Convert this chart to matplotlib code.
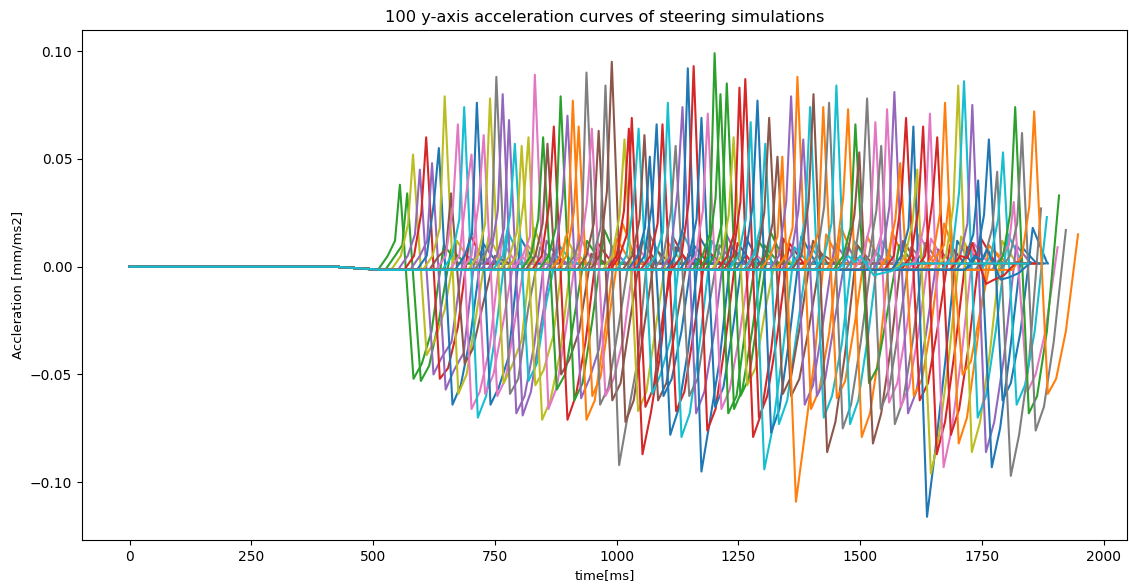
import matplotlib
matplotlib.use("Agg")
import matplotlib.pyplot as plt

# ---- data (one entry per simulation curve) ----
peak_time = [555, 570, 582, 596, 609, 621, 635, 647, 660, 674,
             687, 702, 713, 727, 740, 753, 766, 779, 791, 805,
             819, 832, 849, 858, 871, 885, 899, 910, 922, 938,
             949, 963, 977, 990, 1016, 1025, 1031, 1045, 1057, 1068,
             1082, 1094, 1105, 1121, 1135, 1146, 1158, 1174, 1187, 1201,
             1213, 1226, 1240, 1252, 1264, 1275, 1289, 1305, 1313, 1330,
             1340, 1358, 1371, 1383, 1397, 1404, 1424, 1436, 1451, 1475,
             1490, 1498, 1514, 1531, 1543, 1555, 1570, 1582, 1594, 1609,
             1617, 1629, 1643, 1658, 1674, 1682, 1701, 1713, 1730, 1742,
             1764, 1781, 1793, 1815, 1818, 1832, 1857, 1730, 1760, 1500]

peak_value = [0.038, 0.034, 0.052, 0.045, 0.060, 0.048, 0.055, 0.079, 0.034, 0.066,
              0.074, 0.052, 0.076, 0.061, 0.078, 0.088, 0.080, 0.068, 0.057, 0.056,
              0.060, 0.089, 0.060, 0.057, 0.065, 0.079, 0.070, 0.077, 0.065, 0.090,
              0.064, 0.063, 0.084, 0.095, 0.059, 0.064, 0.069, 0.064, 0.061, 0.051,
              0.066, 0.066, 0.076, 0.056, 0.074, 0.092, 0.093, 0.069, 0.071, 0.099,
              0.080, 0.085, 0.060, 0.083, 0.087, 0.067, 0.077, 0.057, 0.069, 0.051,
              0.051, 0.079, 0.088, 0.059, 0.074, 0.080, 0.074, 0.076, 0.084, 0.073,
              0.066, 0.053, 0.078, 0.067, 0.056, 0.073, 0.081, 0.048, 0.069, 0.065,
              0.045, 0.065, 0.071, 0.060, 0.076, 0.031, 0.084, 0.086, 0.075, 0.040,
              0.059, 0.044, 0.053, 0.030, 0.074, 0.062, 0.072, 0.011, 0.008, 0.005]

rise_value = [0.012, 0.010, 0.020, 0.015, 0.025, 0.012, 0.030, 0.018, 0.008, 0.028,
              0.022, 0.035, 0.015, 0.030, 0.020, 0.012, 0.026, 0.018, 0.024, 0.016,
              0.030, 0.014, 0.022, 0.020, 0.028, 0.018, 0.032, 0.016, 0.025, 0.014,
              0.030, 0.020, 0.018, 0.035, 0.024, 0.026, 0.015, 0.030, 0.022, 0.018,
              0.028, 0.020, 0.016, 0.025, 0.035, 0.018, 0.030, 0.022, 0.026, 0.015,
              0.032, 0.020, 0.024, 0.016, 0.030, 0.022, 0.028, 0.018, 0.025, 0.020,
              0.014, 0.030, 0.018, 0.026, 0.022, 0.030, 0.016, 0.028, 0.020, 0.032,
              0.018, 0.024, 0.030, 0.020, 0.026, 0.016, 0.028, 0.022, 0.030, 0.018,
              0.020, 0.026, 0.022, 0.030, 0.025, 0.010, 0.028, 0.035, 0.020, 0.015,
              0.024, 0.018, 0.022, 0.010, 0.025, 0.020, 0.028, 0.004, 0.003, 0.002]

dip_value = [-0.052, -0.053, -0.041, -0.050, -0.052, -0.057, -0.064, -0.059, -0.045, -0.066,
             -0.070, -0.059, -0.064, -0.060, -0.054, -0.059, -0.068, -0.069, -0.053, -0.055,
             -0.071, -0.066, -0.057, -0.050, -0.071, -0.062, -0.061, -0.071, -0.060, -0.064,
             -0.060, -0.062, -0.092, -0.072, -0.067, -0.087, -0.065, -0.059, -0.062, -0.060,
             -0.078, -0.067, -0.079, -0.060, -0.068, -0.095, -0.076, -0.065, -0.066, -0.068,
             -0.066, -0.060, -0.055, -0.079, -0.070, -0.094, -0.077, -0.073, -0.059, -0.060,
             -0.109, -0.064, -0.066, -0.060, -0.070, -0.086, -0.061, -0.075, -0.073, -0.079,
             -0.054, -0.082, -0.066, -0.063, -0.073, -0.065, -0.068, -0.060, -0.062, -0.116,
             -0.096, -0.087, -0.093, -0.078, -0.082, -0.050, -0.086, -0.070, -0.086, -0.093,
             -0.062, -0.097, -0.064, -0.058, -0.068, -0.076, -0.059, -0.008, -0.006, -0.004]

dip_hold_value = [-0.045, -0.046, -0.034, -0.042, -0.047, -0.048, -0.055, -0.050, -0.038, -0.058,
                  -0.060, -0.050, -0.056, -0.052, -0.046, -0.052, -0.060, -0.058, -0.045, -0.048,
                  -0.062, -0.056, -0.050, -0.043, -0.060, -0.054, -0.052, -0.062, -0.051, -0.056,
                  -0.052, -0.054, -0.070, -0.062, -0.058, -0.068, -0.056, -0.050, -0.054, -0.052,
                  -0.066, -0.058, -0.068, -0.052, -0.058, -0.072, -0.066, -0.056, -0.057, -0.060,
                  -0.057, -0.052, -0.047, -0.068, -0.060, -0.075, -0.066, -0.062, -0.051, -0.052,
                  -0.080, -0.055, -0.057, -0.052, -0.060, -0.072, -0.053, -0.064, -0.062, -0.068,
                  -0.047, -0.068, -0.057, -0.054, -0.062, -0.056, -0.058, -0.052, -0.054, -0.085,
                  -0.078, -0.072, -0.075, -0.066, -0.070, -0.044, -0.072, -0.060, -0.072, -0.075,
                  -0.054, -0.078, -0.055, -0.050, -0.060, -0.065, -0.052, -0.006, -0.005, -0.003]

shoulder_value = [-0.030, -0.025, -0.020, -0.035, -0.028, -0.040, -0.032, -0.022, -0.018, -0.038,
                  -0.030, -0.026, -0.042, -0.024, -0.034, -0.020, -0.036, -0.028, -0.016, -0.032,
                  -0.040, -0.027, -0.022, -0.030, -0.035, -0.025, -0.038, -0.031, -0.020, -0.029,
                  -0.033, -0.024, -0.045, -0.030, -0.027, -0.040, -0.021, -0.034, -0.026, -0.030,
                  -0.038, -0.029, -0.036, -0.023, -0.031, -0.044, -0.035, -0.028, -0.032, -0.026,
                  -0.030, -0.022, -0.020, -0.039, -0.033, -0.041, -0.034, -0.030, -0.025, -0.028,
                  -0.045, -0.027, -0.031, -0.024, -0.036, -0.040, -0.026, -0.035, -0.032, -0.038,
                  -0.022, -0.037, -0.029, -0.027, -0.034, -0.030, -0.031, -0.025, -0.028, -0.045,
                  -0.042, -0.039, -0.041, -0.036, -0.037, -0.020, -0.040, -0.030, -0.042, -0.040,
                  -0.030, -0.045, -0.030, -0.030, -0.030, -0.035, -0.030, -0.004, -0.003, -0.002]

recovery_value = [0.010, 0.008, 0.012, 0.006, 0.015, 0.009, 0.011, 0.014, 0.005, 0.012,
                  0.016, 0.007, 0.013, 0.010, 0.018, 0.009, 0.012, 0.006, 0.010, 0.014,
                  0.008, 0.015, 0.012, 0.006, 0.011, 0.017, 0.009, 0.013, 0.020, 0.007,
                  0.010, 0.012, 0.015, 0.008, 0.011, 0.014, 0.009, 0.016, 0.006, 0.010,
                  0.013, 0.008, 0.012, 0.010, 0.015, 0.009, 0.011, 0.014, 0.007, 0.012,
                  0.010, 0.016, 0.008, 0.013, 0.011, 0.009, 0.014, 0.010, 0.012, 0.006,
                  0.015, 0.011, 0.018, 0.009, 0.012, 0.010, 0.014, 0.008, 0.013, 0.016,
                  0.010, 0.012, 0.009, 0.015, 0.011, 0.013, 0.008, 0.020, 0.010, 0.012,
                  0.014, 0.009, 0.011, 0.013, 0.010, 0.008, 0.012, 0.015, 0.010, 0.009,
                  0.018, 0.027, 0.023, 0.009, 0.033, 0.017, 0.015, 0.002, 0.002, 0.001]

end_time = [1790, 1845, 1812, 1868, 1798, 1830, 1856, 1805, 1822, 1875,
            1793, 1840, 1816, 1862, 1801, 1834, 1850, 1787, 1826, 1870,
            1808, 1843, 1795, 1859, 1818, 1831, 1866, 1799, 1848, 1814,
            1837, 1872, 1790, 1853, 1806, 1828, 1861, 1797, 1844, 1820,
            1867, 1803, 1835, 1855, 1792, 1825, 1864, 1810, 1841, 1800,
            1858, 1817, 1832, 1873, 1796, 1849, 1813, 1838, 1869, 1804,
            1827, 1852, 1789, 1845, 1815, 1863, 1807, 1833, 1857, 1819,
            1842, 1871, 1802, 1836, 1860, 1811, 1847, 1824, 1866, 1809,
            1854, 1839, 1875, 1821, 1862, 1830, 1870, 1851, 1874, 1880,
            1885, 1875, 1885, 1905, 1911, 1940, 1950, 1860, 1875, 1845]

# relative times (ms) of the key points around each curve's peak
shape_offset = [-45, -25, -10, 0, 28, 45, 65, 90, 120]
base_time = [0, 420, 520]
base_value = [0.0, 0.0, -0.0015]
pre_value = 0.005
settle_value = 0.0015
time_max = 1950

# ---- styles ----
curve_color = ['C2', 'C2', 'C8', 'C4', 'C3', 'C4', 'C0', 'C8', 'C5', 'C6',
               'C9', 'C6', 'C0', 'C6', 'C8', 'C7', 'C4', 'C4', 'C9', 'C8',
               'C8', 'C6', 'C2', 'C5', 'C3', 'C2', 'C4', 'C1', 'C1', 'C7',
               'C6', 'C5', 'C7', 'C5', 'C8', 'C3', 'C3', 'C9', 'C5', 'C0',
               'C0', 'C3', 'C9', 'C7', 'C4', 'C0', 'C3', 'C0', 'C6', 'C2',
               'C2', 'C2', 'C8', 'C3', 'C3', 'C9', 'C0', 'C9', 'C5', 'C5',
               'C1', 'C4', 'C1', 'C4', 'C9', 'C5', 'C1', 'C7', 'C9', 'C1',
               'C2', 'C5', 'C7', 'C6', 'C7', 'C6', 'C4', 'C1', 'C3', 'C0',
               'C8', 'C3', 'C6', 'C3', 'C1', 'C1', 'C8', 'C9', 'C4', 'C0',
               'C0', 'C7', 'C9', 'C6', 'C2', 'C7', 'C1', 'C3', 'C0', 'C9']

fig = plt.figure(figsize=(11.29, 5.84), dpi=100)
ax = fig.add_axes([82 / 1129, 44 / 584, 1045 / 1129, 510 / 584])

for i in range(len(peak_time)):
    ts = [t for t in base_time if t < peak_time[i] + shape_offset[0]]
    vs = base_value[:len(ts)]
    key_values = [-0.0015, pre_value, rise_value[i], peak_value[i], dip_value[i],
                  dip_hold_value[i], shoulder_value[i], recovery_value[i], settle_value]
    complete = True
    for off, v in zip(shape_offset, key_values):
        t = peak_time[i] + off
        if t <= end_time[i]:
            ts.append(t)
            vs.append(v)
        else:
            complete = False
    if complete and end_time[i] > ts[-1]:
        ts.append(end_time[i])
        vs.append(settle_value)
    ax.plot(ts, vs, color=curve_color[i], lw=1.5)

ax.set_xlim(-0.05 * time_max, 1.05 * time_max)
ax.set_title("100 y-axis acceleration curves of steering simulations", fontsize=11.7)
ax.set_xlabel("time[ms]", fontsize=9.5)
ax.set_ylabel("Accleration [mm/ms2]", fontsize=9.5)
ax.tick_params(labelsize=10)

fig.savefig("out.png", dpi=100)
